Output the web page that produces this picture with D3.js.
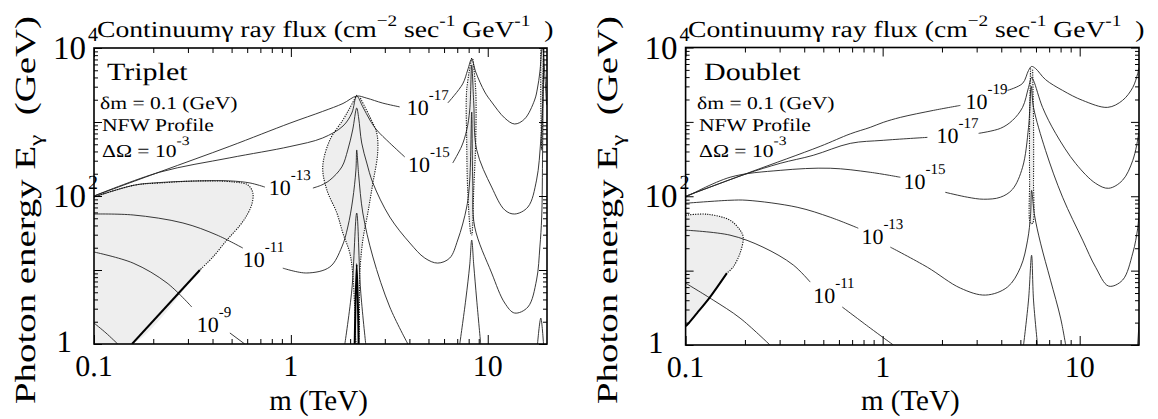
<!DOCTYPE html>
<html>
<head>
<meta charset="utf-8">
<script src="https://cdn.jsdelivr.net/npm/d3@7"></script>
<style>
  body { margin: 0; background: #fff; }
  svg text { font-family: "Liberation Serif", "Times New Roman", Times, serif; fill: #000; text-rendering: geometricPrecision; }
</style>
</head>
<body>
<svg id="chart" width="1158" height="419" font-family="Liberation Serif"></svg>
<script>
// axes: dark matter mass m (TeV) and photon energy E (GeV)
var massDomain = [0.1, 20];
var energyDomain = [1, 1e4];
var xMajor = [0.1, 1, 10];
var xMinor = [0.2, 0.3, 0.4, 0.5, 0.6, 0.7, 0.8, 0.9, 2, 3, 4, 5, 6, 7, 8, 9];
var xTickText = ["0.1", "1", "10"];
var yMajor = [1, 10, 100, 1000, 10000];
var yMinor = [2, 3, 4, 5, 6, 7, 8, 9, 20, 30, 40, 50, 60, 70, 80, 90,
              200, 300, 400, 500, 600, 700, 800, 900, 2000, 3000, 4000, 5000, 6000, 7000, 8000, 9000];
var yLabelValues = [1, 100, 10000];
var yLabelBase = ["1", "10", "10"];
var yLabelSup = ["", "2", "4"];

// ---- Triplet contours, [m, E] ----
var trip17a = [[0.1,100],[0.216,212],[0.49,470],[0.989,965],[1.45,1390],[1.84,1780],[2.16,2240],[2.43,2100],[2.93,1800],[3.57,1600]];
var trip17b = [[6.27,1810],[7.46,3270],[7.91,5040],[8.29,7100],[8.69,4740],[9.66,2540],[10.47,1860],[12.2,1130],[13.7,940],[15.4,1100],[17.3,1980],[17.9,2880],[18.4,4740],[18.8,9400],[18.9,10000]];
var trip17c = [[19.1,10000],[19.5,4300],[19.9,1700]];
var trip15a = [[0.1,100],[0.216,210],[0.49,328],[0.989,466],[1.45,608],[1.84,883],[2.04,1324],[2.16,2240],[2.32,1600],[2.52,1064],[2.73,780],[3.18,520],[3.79,337]];
var trip15b = [[6.64,279],[7.38,474],[7.82,780],[8.10,1450],[8.29,5900],[8.49,1800],[8.79,420],[10.47,132],[12.2,64.7],[13.7,57.1],[16.0,71],[17.7,164],[18.6,571],[19.0,1600],[19.2,4600],[19.3,10000]];
var trip13a = [[0.1,97],[0.16,140],[0.216,152],[0.345,160],[0.49,160],[0.62,150],[0.738,132]];
var trip13b = [[1.294,128],[1.436,141],[1.578,164],[1.815,247],[1.946,419],[2.06,780],[2.16,1545],[2.21,1133],[2.29,520],[2.43,279],[2.61,150],[3.18,52],[4.02,23.2],[4.79,14.5],[5.57,12.4],[6.41,14.5],[7.04,25.4],[7.82,71],[8.10,164],[8.29,1365],[8.39,164],[8.59,38.1],[10.47,9.11],[12.2,3.58],[13.7,2.62],[16.0,3.16],[17.7,7.33],[18.4,20.5],[18.8,52],[19.0,419],[19.2,10000]];
var trip11a = [[0.1,57.1],[0.158,55.4],[0.283,43.2],[0.421,29.7],[0.57,19.8]];
var trip11b = [[0.91,10.6],[1.205,9.11],[1.578,11.0],[1.815,20.5],[1.946,38.1],[2.06,88.3],[2.14,224],[2.16,419],[2.21,192],[2.32,58.9],[2.61,15.0],[3.18,3.16],[3.93,1]];
var trip11c = [[7.21,1],[7.73,3.93],[8.10,11.7],[8.29,25.4],[8.49,11.7],[8.79,3.93],[9.21,1]];
var trip11d = [[17.9,1],[18.6,2.24],[19.2,1]];
var trip9a = [[0.1,17.5],[0.158,12.4],[0.235,6.67],[0.314,3.16]];
var trip9b = [[0.49,1.41],[0.583,1]];
var trip9c = [[1.88,1],[2.04,5.37],[2.16,58.9],[2.26,5.37],[2.40,1]];
var trip7 = [[0.1,1.92],[0.115,1.41],[0.132,1]];
var tripThick = [[0.345,10],[0.156,1]];
var tripInner = [[2.11,1],[2.16,12],[2.21,1]];
var tripShadeA = [[0.1,97],[0.16,140],[0.216,150],[0.345,160],[0.508,155],[0.605,141],[0.641,110],[0.634,78],[0.598,55],[0.551,40],[0.473,25.4],[0.402,15.0],[0.345,10]];
var tripShadeB = [[2.16,2316],[1.992,1545],[1.837,1064],[1.578,571],[1.452,247],[1.523,121],[1.713,58.9],[1.837,31.6],[1.992,17.0],[2.06,9.11],[2.11,3.16],[2.16,1],[2.19,1],[2.24,9.11],[2.32,25.4],[2.46,58.9],[2.61,150],[2.76,381],[2.73,710],[2.52,1169],[2.24,2176]];
var tripShadeC = [[8.29,7330],[7.82,2700],[7.82,571],[7.91,121],[8.20,31.6],[8.29,29.7],[8.49,121],[8.69,571],[8.69,2700],[8.39,7330]];
var tripShadeD = [[18.6,10000],[18.6,1980],[18.8,419],[19.0,1980],[19.2,10000]];
var tripLabelAt = [[3.88,1244],[3.93,211],[0.773,103],[0.57,11.0],[0.333,1.45]];
var tripLabelExp = ["-17", "-15", "-13", "-11", "-9"];

// ---- Doublet contours, [m, E] ----
var doub19a = [[0.1,100],[0.212,210],[0.482,469],[0.685,690],[0.865,844],[1.007,985],[1.23,1149],[1.81,1427],[2.48,1665]];
var doub19b = [[4.30,2648],[5.13,3288],[5.50,4910],[5.70,5560],[5.97,5222],[6.71,3700],[8.19,2648],[10.35,1944],[13.87,1567],[16.5,1944],[18.6,2904],[19.7,4477],[20,5400]];
var doub17a = [[0.1,100],[0.2,197],[0.302,277],[0.444,355],[0.685,514],[1.007,565],[1.687,619]];
var doub17b = [[3.07,701],[3.96,818],[4.56,1047],[5.13,1567],[5.50,2904],[5.70,3955],[5.83,3606],[6.48,1567],[7.55,701],[9.53,277],[12.05,149],[14.03,128],[16.5,164],[18.6,304],[19.95,701],[20,760]];
var doub15a = [[0.1,97],[0.168,180],[0.302,223],[0.542,238],[0.865,210],[1.23,180]];
var doub15b = [[2.08,113],[2.70,97],[3.25,91.2],[3.96,97],[4.56,124],[5.13,245],[5.50,844],[5.68,3000],[5.83,1567],[6.71,414],[8.19,97],[10.35,25.7],[12.05,11.1],[14.03,6.19],[16.5,7.45],[18.6,17.2],[19.7,37.2],[20,59]];
var doub13a = [[0.1,80.5],[0.168,88.3],[0.205,88.3],[0.368,71.2],[0.542,52.2],[0.752,37.2]];
var doub13b = [[1.094,20.7],[1.687,11.1],[2.48,5.82],[3.33,4.69],[4.30,6.01],[5.01,11.1],[5.44,25.7],[5.63,55.6],[5.70,120],[5.90,55.6],[6.33,23.4],[7.11,7.45],[8.00,2.30],[8.49,1]];
var doub13c = [[19.7,1],[20,1.97]];
var doub11a = [[0.1,35.0],[0.168,30.0],[0.247,20.7],[0.352,11.9],[0.429,7.01]];
var doub11b = [[0.624,3.24],[0.865,1.69],[1.133,1]];
var doub11c = [[5.19,1],[5.50,4.02],[5.70,16.1],[5.83,4.02],[6.11,1]];
var doub9 = [[0.1,6.79],[0.138,4.02],[0.189,2.30],[0.268,1]];
var doubThick = [[0.162,9.26],[0.133,4.41],[0.1143,2.69],[0.1016,1.86],[0.1,1.80]];
var doubShadeA = [[0.1,55.6],[0.1285,57.3],[0.168,47.6],[0.189,35.0],[0.196,28.2],[0.189,17.2],[0.174,11.1],[0.162,9.26]];
var doubShadeB = [[5.63,5222],[5.57,1047],[5.57,164],[5.63,43.4],[5.77,43.4],[5.83,164],[5.83,1047],[5.77,5222]];
var doubLabelAt = [[2.63,1472],[1.876,514],[1.276,124],[0.780,22.7],[0.444,3.66]];
var doubLabelExp = ["-19", "-17", "-15", "-13", "-11"];

var svg = d3.select("#chart");

var corner = [massDomain[0], energyDomain[0]];
var stretch = 1.2;   // the printed figure is a bit wider than tall

var panels = [
  { key: "trip", left: 94, right: 547, top: 48, bottom: 344,
    name: "Triplet", textX: 100,
    lines: [trip17a, trip17b, trip17c, trip15a, trip15b, trip13a, trip13b, trip11a, trip11b, trip11c, trip11d, trip9a, trip9b, trip9c, trip7],
    thick: [tripThick, tripInner],
    dotted: [tripShadeA, tripShadeB, tripShadeC, tripShadeD],
    fills: [tripShadeA.concat(tripThick.slice(1), [corner]), tripShadeB, tripShadeC, tripShadeD],
    labelAt: tripLabelAt, labelExp: tripLabelExp,
    titleX: 97, yTitleX: 35 },
  { key: "doub", left: 685.6, right: 1139, top: 47.5, bottom: 345,
    name: "Doublet", textX: 697,
    lines: [doub19a, doub19b, doub17a, doub17b, doub15a, doub15b, doub13a, doub13b, doub13c, doub11a, doub11b, doub11c, doub9],
    thick: [doubThick],
    dotted: [doubShadeA, doubShadeB],
    fills: [doubShadeA.concat(doubThick.slice(1)), doubShadeB],
    labelAt: doubLabelAt, labelExp: doubLabelExp,
    titleX: 688, yTitleX: 617 }
];

panels.forEach(drawPanel);

function wideText(parent, x, y, size) {
  return parent.append("text")
    .attr("transform", "translate(" + x + "," + y + ") scale(" + stretch + ",1)")
    .attr("font-size", size);
}

function drawPanel(p) {
  var x = d3.scaleLog().domain(massDomain).range([p.left, p.right]);
  var y = d3.scaleLog().domain(energyDomain).range([p.bottom, p.top]);
  var g = svg.append("g");

  svg.append("clipPath").attr("id", "clip-" + p.key)
    .append("rect")
    .attr("x", p.left).attr("y", p.top)
    .attr("width", p.right - p.left).attr("height", p.bottom - p.top);

  var plot = g.append("g").attr("clip-path", "url(#clip-" + p.key + ")");
  var smooth = d3.line()
    .x(function(d) { return x(d[0]); })
    .y(function(d) { return y(d[1]); })
    .curve(d3.curveCatmullRom.alpha(0.5));

  // shaded regions
  p.fills.forEach(function(f) {
    plot.append("path").attr("d", smooth(f) + "Z")
      .attr("fill", "#eeeeee").attr("stroke", "none");
  });
  // contour lines
  p.lines.forEach(function(l) {
    plot.append("path").attr("d", smooth(l))
      .attr("fill", "none").attr("stroke", "#222").attr("stroke-width", 0.9);
  });
  // dotted region borders
  p.dotted.forEach(function(l) {
    plot.append("path").attr("d", smooth(l))
      .attr("fill", "none").attr("stroke", "#111").attr("stroke-width", 1.1)
      .attr("stroke-dasharray", "1.2,1.2");
  });
  p.thick.forEach(function(l) {
    plot.append("path").attr("d", smooth(l))
      .attr("fill", "none").attr("stroke", "#000").attr("stroke-width", 2);
  });

  // contour labels
  p.labelAt.forEach(function(d, i) {
    var t = g.append("text")
      .attr("x", x(d[0])).attr("y", y(d[1]))
      .attr("font-size", 22);
    t.append("tspan").text("10");
    t.append("tspan").attr("dx", 0).attr("dy", -15).attr("font-size", 15).text(p.labelExp[i]);
  });

  // ticks on all four sides, pointing inward
  function ticks(axis, vals, len, tr) {
    var a = g.append("g").attr("transform", tr)
      .call(axis.tickValues(vals).tickSize(-len).tickFormat(""));
    a.select(".domain").remove();
    a.selectAll("line").attr("stroke", "#000").attr("stroke-width", 1);
  }
  ticks(d3.axisBottom(x), xMajor, 9, "translate(0," + p.bottom + ")");
  ticks(d3.axisBottom(x), xMinor, 5, "translate(0," + p.bottom + ")");
  ticks(d3.axisTop(x), xMajor, 9, "translate(0," + p.top + ")");
  ticks(d3.axisTop(x), xMinor, 5, "translate(0," + p.top + ")");
  ticks(d3.axisLeft(y), yMajor, 8, "translate(" + p.left + ",0)");
  ticks(d3.axisLeft(y), yMinor, 4, "translate(" + p.left + ",0)");
  ticks(d3.axisRight(y), yMajor, 8, "translate(" + p.right + ",0)");
  ticks(d3.axisRight(y), yMinor, 4, "translate(" + p.right + ",0)");

  g.append("rect")
    .attr("x", p.left).attr("y", p.top)
    .attr("width", p.right - p.left).attr("height", p.bottom - p.top)
    .attr("fill", "none").attr("stroke", "#000").attr("stroke-width", 1.6);

  // tick labels
  xMajor.forEach(function(v, i) {
    g.append("text").attr("x", x(v)).attr("y", p.bottom + 32)
      .attr("text-anchor", "middle").attr("font-size", 30).text(xTickText[i]);
  });
  yLabelValues.forEach(function(v, i) {
    if (yLabelSup[i] === "") {
      g.append("text").attr("x", p.left - 22).attr("y", y(v) + 8)
        .attr("text-anchor", "end").attr("font-size", 31).text(yLabelBase[i]);
    } else {
      g.append("text").attr("x", p.left - 8).attr("y", y(v) + 11)
        .attr("text-anchor", "end").attr("font-size", 33).text(yLabelBase[i]);
      g.append("text").attr("x", p.left - 6).attr("y", y(v) - 7)
        .attr("font-size", 20).text(yLabelSup[i]);
    }
  });

  // axis titles
  g.append("text")
    .attr("transform", "translate(" + p.yTitleX + ",210) rotate(-90)")
    .attr("text-anchor", "middle").attr("font-size", 29)
    .attr("textLength", 388).attr("lengthAdjust", "spacingAndGlyphs")
    .call(function(t) {
      t.append("tspan").text("Photon energy E");
      t.append("tspan").attr("dy", 7).attr("font-size", 19).text("\u03b3");
      t.append("tspan").attr("dy", -7).text("\u00a0\u00a0(GeV)");
    });
  g.append("text").attr("x", (p.left + p.right) / 2 - 2).attr("y", 410)
    .attr("text-anchor", "middle").attr("font-size", 29).text("m (TeV)");

  // title
  var tt = wideText(g, p.titleX, 37, 23);
  tt.append("tspan").text("Continuum\u03b3 ray flux (cm");
  tt.append("tspan").attr("dy", -11).attr("font-size", 16).text("\u22122");
  tt.append("tspan").attr("dy", 11).text(" sec");
  tt.append("tspan").attr("dy", -11).attr("font-size", 16).text("-1");
  tt.append("tspan").attr("dy", 11).text(" GeV");
  tt.append("tspan").attr("dy", -11).attr("font-size", 16).text("-1");
  tt.append("tspan").attr("dy", 11).text("\u00a0\u00a0)");

  // panel annotations
  wideText(g, p.textX + 7, 80, 25).text(p.name);
  wideText(g, p.textX, 109, 18).text("\u03b4m = 0.1 (GeV)");
  wideText(g, p.textX + 2, 131, 18).text("NFW Profile");
  var dt = wideText(g, p.textX + 2, 157, 18);
  dt.append("tspan").text("\u0394\u03a9 = 10");
  dt.append("tspan").attr("dx", 0).attr("dy", -12).attr("font-size", 13).text("-3");
}
</script>
</body>
</html>
